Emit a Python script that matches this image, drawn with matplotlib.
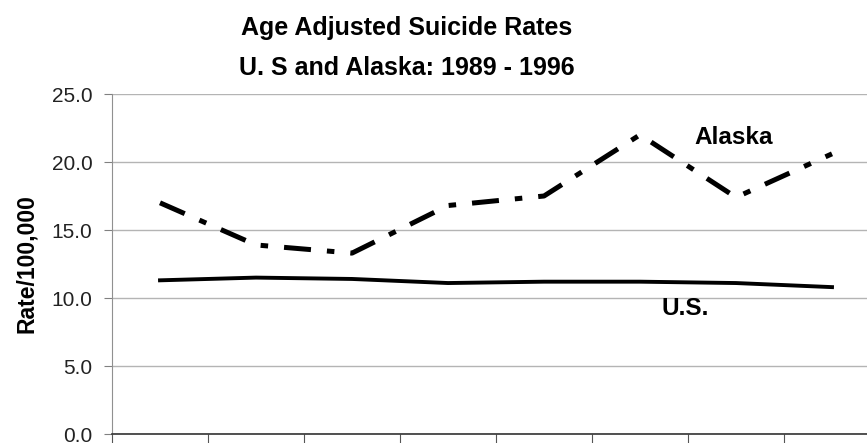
import matplotlib
matplotlib.use("Agg")
import matplotlib.pyplot as plt
import numpy as np

years = [1989, 1990, 1991, 1992, 1993, 1994, 1995, 1996]
alaska = [17.0, 13.9, 13.3, 16.8, 17.5, 22.0, 17.4, 20.6]
us = [11.3, 11.5, 11.4, 11.1, 11.2, 11.2, 11.1, 10.8]
yticks = [0.0, 5.0, 10.0, 15.0, 20.0, 25.0]

plt.rcParams['font.family'] = ['Liberation Sans', 'DejaVu Sans']

fig = plt.figure(figsize=(8.67, 4.43), dpi=100)
ax = fig.add_axes([112/867, 1-434/443, 768/867, 340/443])

# one category per year, points in the middle of each slot
x = np.arange(len(years)) + 0.5
ax.plot(x, alaska, color='black', lw=3.6, dashes=(5.4, 3.2, 1.5, 3.2))
ax.plot(x, us, color='black', lw=2.8)

ax.set_xlim(0, len(years))
ax.set_ylim(0, 25)
ax.set_yticks(yticks)
ax.set_yticklabels(['%.1f' % v for v in yticks], fontsize=15, color='#222222')
ax.set_xticks(np.arange(len(years) + 1))
ax.set_xticklabels([])
ax.grid(axis='y', color='#b4b4b4', lw=1)
ax.set_axisbelow(True)
ax.tick_params(axis='y', length=6, color='#808080', pad=8)
ax.tick_params(axis='x', length=7, color='#555555')

for s in ['top', 'right']:
    ax.spines[s].set_visible(False)
ax.spines['left'].set_color('#909090')
ax.spines['bottom'].set_color('#333333')
ax.spines['bottom'].set_linewidth(1.2)

ax.set_ylabel('Rate/100,000', fontsize=16.5, fontweight='bold', labelpad=10)

ax.text(6.07, 21.8, 'Alaska', fontsize=17.5, fontweight='bold', va='center')
ax.text(5.72, 9.2, 'U.S.', fontsize=17.5, fontweight='bold', va='center')

fig.text(407/867, 1-28/443, 'Age Adjusted Suicide Rates', ha='center', va='center', fontsize=18, fontweight='bold')
fig.text(407/867, 1-68/443, 'U. S and Alaska: 1989 - 1996', ha='center', va='center', fontsize=18, fontweight='bold')

fig.savefig('out.png', dpi=100)
